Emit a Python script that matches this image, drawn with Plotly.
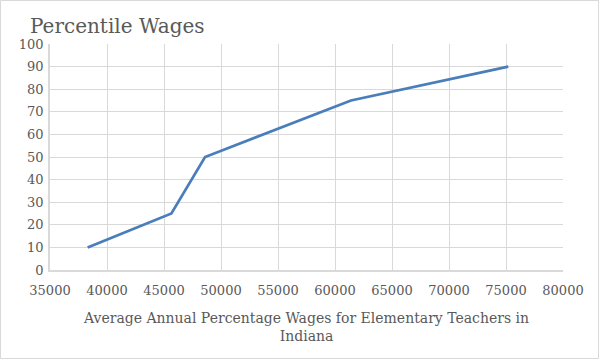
import plotly.graph_objects as go

wages = [38300, 45650, 48600, 61400, 75200]
percentiles = [10, 25, 50, 75, 90]

title_text = "Percentile Wages"
x_title = "Average Annual Percentage Wages for Elementary Teachers in<br>Indiana"

font_family = "DejaVu Serif"
gray = "#595959"
grid = "#d9d9d9"

fig = go.Figure()
fig.add_trace(go.Scatter(
    x=wages, y=percentiles, mode="lines",
    line=dict(color="#4a7ebb", width=2.75),
    showlegend=False, hoverinfo="skip",
))

fig.update_layout(
    width=600, height=360,
    paper_bgcolor="white", plot_bgcolor="white",
    margin=dict(l=50, r=37, t=44, b=90, autoexpand=False),
    title=dict(text=title_text, x=30/600, xanchor="left", y=1-26/360, yanchor="middle",
               font=dict(family=font_family, size=20, color=gray)),
    font=dict(family=font_family, color=gray, size=13),
)
fig.update_xaxes(
    range=[35000, 80000], dtick=5000, tick0=35000, tickformat="d",
    showgrid=True, gridcolor=grid, gridwidth=1,
    showline=True, linecolor=grid, linewidth=1.5,
    zeroline=False, ticks="", ticklen=0, automargin=False, ticklabelstandoff=8,
    tickfont=dict(family=font_family, size=13, color=gray),
    title=dict(text=x_title, font=dict(family=font_family, size=14, color=gray), standoff=16),
    fixedrange=True,
)
fig.update_yaxes(
    range=[0, 100], dtick=10, automargin=False,
    showgrid=True, gridcolor=grid, gridwidth=1,
    showline=True, linecolor=grid, linewidth=1.5,
    zeroline=False, ticks="", ticklabelstandoff=2,
    tickfont=dict(family=font_family, size=13, color=gray),
    fixedrange=True,
)
pw, ph = 513, 226
fig.add_shape(type="rect", xref="paper", yref="paper",
              x0=-49.5/pw, x1=(598.5-50)/pw, y0=-(358.5-270)/ph, y1=1+43.5/ph,
              line=dict(color=grid, width=1), fillcolor="rgba(0,0,0,0)", layer="below")

fig.write_html("out.html", config={"displayModeBar": False},
               post_script="document.body.style.margin='0';document.body.style.overflow='hidden';")
